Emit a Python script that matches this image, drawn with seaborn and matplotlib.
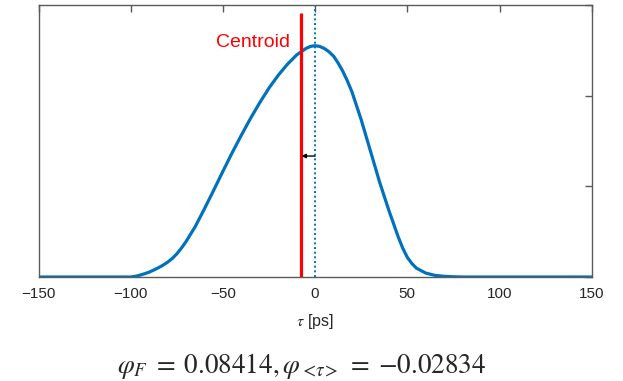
import matplotlib
matplotlib.use("Agg")
from matplotlib import pyplot as plt
import numpy as np
import seaborn as sns
import pandas as pd

# pulse intensity vs delay (peak normalised to 1)
TAU = [-150, -105, -100, -97.5, -95, -92.5, -90, -87.5, -85, -82.5, -80,
       -77.5, -75, -72.5, -70, -65, -60, -55, -50, -45, -40, -35, -30, -25,
       -20, -15, -10, -5, -2.5, 0, 2.5, 5, 7.5, 10, 12.5, 15, 17.5, 20, 25,
       30, 35, 40, 45, 47.5, 50, 52.5, 55, 60, 65, 70, 75, 80, 150]
INTENSITY = [0.0, 0.0, 0.0, 0.003, 0.008, 0.014, 0.021, 0.03, 0.04, 0.051,
             0.064, 0.08, 0.10, 0.125, 0.153, 0.218, 0.295, 0.375, 0.457,
             0.537, 0.613, 0.686, 0.754, 0.817, 0.872, 0.92, 0.96, 0.988,
             0.997, 1.0, 0.997, 0.988, 0.974, 0.955, 0.925, 0.89, 0.848,
             0.80, 0.68, 0.545, 0.41, 0.288, 0.175, 0.125, 0.085, 0.058,
             0.038, 0.017, 0.007, 0.003, 0.001, 0.0, 0.0]

CENTROID = -7.7
CENTROID_TOP = 1.143
ARROW_Y = 0.523
YMAX = 1.176
XTICKS = [-150, -100, -50, 0, 50, 100, 150]
CAPTION = (r"$\varphi_F\;=\;0.08414,\varphi_{<\!\tau\!>}\;=\;{-}0.02834$")

BLUE = "#0072BD"
FRAME = "#5a5a5a"


def main():
    sns.set_style("white")
    plt.rcParams["font.family"] = ["Liberation Sans", "DejaVu Sans"]
    plt.rcParams["mathtext.fontset"] = "stix"

    fig = plt.figure(figsize=(6.23, 3.81), dpi=100)
    ax = fig.add_axes([38.5 / 623, 1 - 277 / 381, (591.7 - 38.5) / 623, 272 / 381])

    df = pd.DataFrame({"tau": TAU, "I": INTENSITY})
    sns.lineplot(data=df, x="tau", y="I", ax=ax, color=BLUE, lw=2.3)

    ax.axvline(0, color=BLUE, lw=1.4, ls=(0, (1, 1.4)))
    ax.plot([CENTROID, CENTROID], [0, CENTROID_TOP], color="#ff0000", lw=2.3,
            solid_capstyle="butt")
    ax.annotate("", xy=(CENTROID + 0.3, ARROW_Y), xytext=(0, ARROW_Y),
                arrowprops=dict(arrowstyle="-|>", color="k", lw=1.0,
                                mutation_scale=6, shrinkA=0, shrinkB=0))
    ax.text(-13.5, 1.012, "Centroid", color="#ff0000", fontsize=14,
            ha="right", va="center")

    ax.set_xlim(-150, 150)
    ax.set_ylim(0, YMAX)
    ax.set_xticks(XTICKS)
    ax.set_yticks(np.linspace(0, YMAX, 4))
    ax.set_yticklabels([])
    ax.tick_params(direction="in", length=5, width=1, color=FRAME,
                   top=True, right=True, labelsize=11, pad=7)
    for s in ax.spines.values():
        s.set_color(FRAME)
        s.set_linewidth(1.0)
    ax.set_xlabel(r"$\tau$ [ps]", fontsize=11.5, labelpad=8)
    ax.set_ylabel("")

    fig.text(302 / 623, 1 - 366 / 381, CAPTION, fontsize=19.5,
             ha="center", va="center")

    fig.savefig("out.png", dpi=100)


if __name__ == "__main__":
    main()
